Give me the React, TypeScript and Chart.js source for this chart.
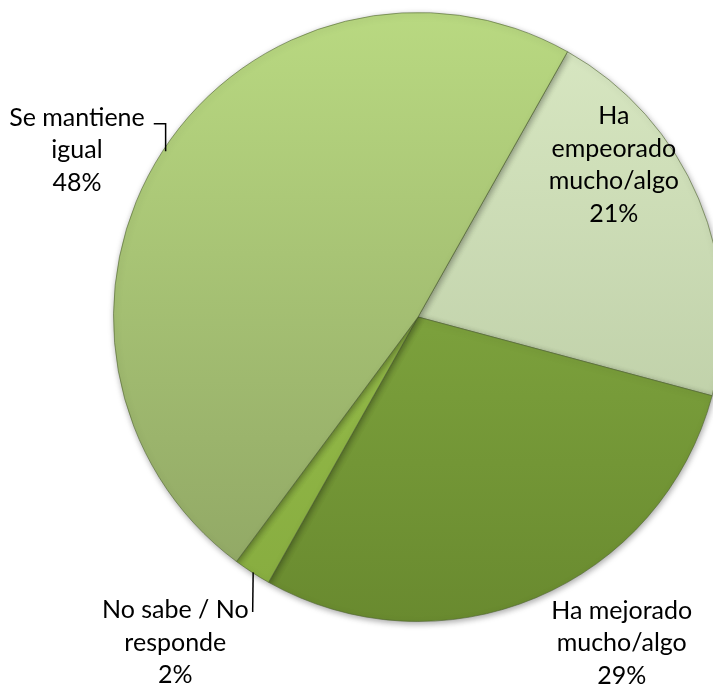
import React, { useEffect, useRef } from "react";
import { Chart, registerables } from "chart.js";

Chart.register(...registerables);

const categories = [
  ["Ha", "empeorado", "mucho/algo"],
  ["Ha mejorado", "mucho/algo"],
  ["No sabe / No", "responde"],
  ["Se mantiene", "igual"],
];
const values = [21, 29, 2, 48];
const percentLabels = ["21%", "29%", "2%", "48%"];
const topColors = ["#d9e8c3", "#8fb84a", "#a2ca52", "#b9d981"];
const bottomColors = ["#b3c59c", "#698a2f", "#86ab3f", "#8ea463"];

// label placement relative to pie centre, in units of radius
const labelPos = [
  { kx: 0.643, ky: -0.5, leader: false },
  { kx: 0.669, ky: 1.072, leader: false },
  { kx: -0.797, ky: 1.069, leader: "straight" },
  { kx: -1.12, ky: -0.548, leader: "elbow" },
];

const FONT = "25px Lato, 'Open Sans', sans-serif";
const LINE_H = 32.5;

const labelPlugin = {
  id: "pieLabels",
  afterDatasetsDraw(chart: any) {
    const ctx = chart.ctx;
    const meta = chart.getDatasetMeta(0);
    ctx.save();
    ctx.font = FONT;
    ctx.fillStyle = "#000";
    ctx.textAlign = "center";
    ctx.textBaseline = "middle";
    meta.data.forEach((arc: any, i: number) => {
      const { x, y, outerRadius, startAngle, endAngle } = arc.getProps(
        ["x", "y", "outerRadius", "startAngle", "endAngle"],
        true
      );
      const p = labelPos[i];
      const lines = [...categories[i], percentLabels[i]];
      const cx = x + p.kx * outerRadius;
      const cy = y + p.ky * outerRadius;
      const y0 = cy - ((lines.length - 1) * LINE_H) / 2;
      lines.forEach((t, j) => ctx.fillText(t, cx, y0 + j * LINE_H));
      if (p.leader) {
        const mid = (startAngle + endAngle) / 2;
        const ex = x + Math.cos(mid) * outerRadius;
        const ey = y + Math.sin(mid) * outerRadius;
        const w = ctx.measureText(lines[0]).width;
        ctx.strokeStyle = "#000";
        ctx.lineWidth = 1.5;
        ctx.beginPath();
        if (p.leader === "elbow") {
          const ly = y0 + 6;
          ctx.moveTo(ex + 3, ey);
          ctx.lineTo(ex + 3, ly);
          ctx.lineTo(cx + w / 2 + 9, ly);
        } else {
          ctx.moveTo(ex + 1, ey);
          ctx.lineTo(cx + w / 2 + 4, y0 + 2);
        }
        ctx.stroke();
      }
    });
    ctx.restore();
  },
};

const shadowPlugin = {
  id: "pieShadow",
  beforeDatasetsDraw(chart: any) {
    const ctx = chart.ctx;
    ctx.save();
    ctx.shadowColor = "rgba(0,0,0,0.35)";
    ctx.shadowBlur = 6;
    ctx.shadowOffsetX = 1;
    ctx.shadowOffsetY = 2;
  },
  afterDatasetsDraw(chart: any) {
    chart.ctx.restore();
  },
};

export default function App() {
  const ref = useRef<HTMLCanvasElement | null>(null);
  useEffect(() => {
    if (!ref.current) return;
    const chart = new Chart(ref.current, {
      type: "pie",
      data: {
        labels: categories.map((c) => c.join(" ")),
        datasets: [
          {
            data: values,
            backgroundColor: (c: any) => {
              const area = c.chart.chartArea;
              if (!area) return topColors[c.dataIndex];
              const g = c.chart.ctx.createLinearGradient(0, area.top, 0, area.bottom);
              g.addColorStop(0, topColors[c.dataIndex]);
              g.addColorStop(1, bottomColors[c.dataIndex]);
              return g;
            },
            borderColor: "rgba(80,100,50,0.6)",
            borderWidth: 1,
          },
        ],
      },
      options: {
        responsive: false,
        animation: false,
        rotation: 29.4,
        layout: { padding: { left: 113, right: 37, top: 12, bottom: 63 } },
        plugins: { legend: { display: false }, tooltip: { enabled: false } },
      },
      plugins: [shadowPlugin, labelPlugin],
    });
    return () => chart.destroy();
  }, []);
  return (
    <div
      style={{
        position: "absolute",
        left: 0,
        top: 0,
        width: 713,
        height: 685,
        overflow: "hidden",
        background: "#fff",
      }}
    >
      <canvas ref={ref} width={760} height={685} style={{ display: "block" }} />
    </div>
  );
}
